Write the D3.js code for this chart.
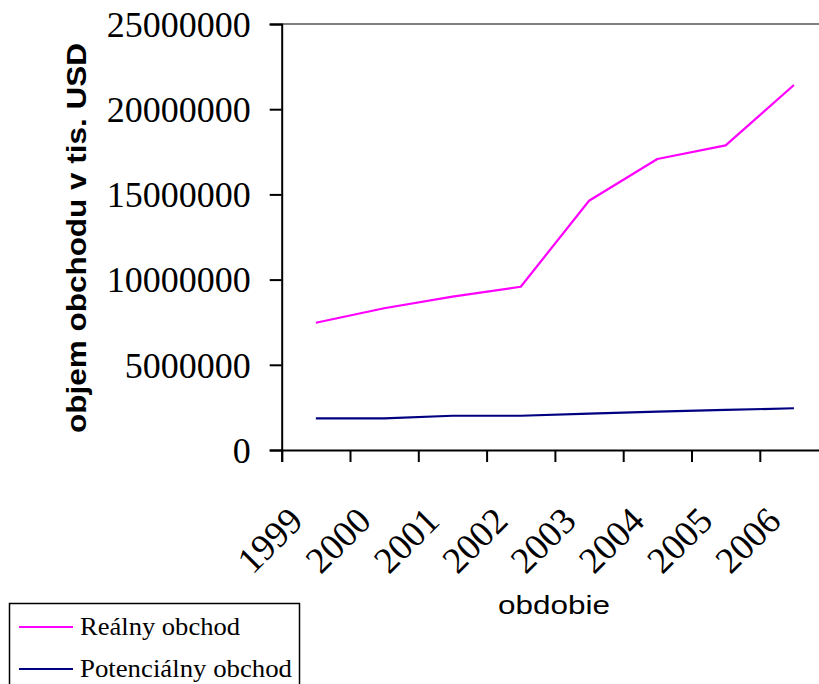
<!DOCTYPE html>
<html>
<head>
<meta charset="utf-8">
<script src="https://cdn.jsdelivr.net/npm/d3@7"></script>
<style>
  html, body { margin: 0; padding: 0; background: #fff; }
  svg { display: block; }
</style>
</head>
<body>
<svg id="chart" width="819" height="684"></svg>
<script>
// Trade volume by year (thousand USD)
const years = ["1999", "2000", "2001", "2002", "2003", "2004", "2005", "2006"];
const realTrade = [7470000, 8320000, 9000000, 9580000, 14630000, 17080000, 17880000, 21420000];
const potentialTrade = [1860000, 1860000, 2010000, 2010000, 2130000, 2250000, 2350000, 2450000];
const yTicks = [0, 5000000, 10000000, 15000000, 20000000, 25000000];
const seriesNames = ["Reálny obchod", "Potenciálny obchod"];
const seriesColors = ["#ff00ff", "#000080"];

const serif = "'Liberation Serif', 'Times New Roman', serif";
const sans = "'Liberation Sans', Arial, sans-serif";

const svg = d3.select("#chart");

const plotLeft = 281.7, plotTop = 24, plotBottom = 450, step = 68.3;
const plotRight = plotLeft + step * years.length;

const x = d3.scaleBand().domain(years).range([plotLeft, plotRight]).padding(0);
const xEdge = d3.scaleLinear().domain([0, years.length]).range([plotLeft, plotRight]);
const y = d3.scaleLinear().domain([0, 25000000]).range([plotBottom, plotTop]);

// plot area top border
svg.append("line")
  .attr("x1", plotLeft).attr("x2", plotRight)
  .attr("y1", y(25000000)).attr("y2", y(25000000))
  .attr("stroke", "#808080").attr("stroke-width", 2);

// y axis
const yAxis = svg.append("g")
  .attr("transform", `translate(${plotLeft},0)`)
  .call(d3.axisLeft(y).tickValues(yTicks).tickSize(12).tickPadding(19).tickFormat(d3.format("d")));
yAxis.select(".domain").attr("stroke", "#000").attr("stroke-width", 2);
yAxis.selectAll(".tick line").attr("stroke", "#000").attr("stroke-width", 2);
yAxis.selectAll(".tick text")
  .attr("font-family", serif).attr("font-size", 36).attr("fill", "#000")
  .attr("dy", "0.34em");

// x axis with ticks at category boundaries
const xAxis = svg.append("g")
  .attr("transform", `translate(0,${plotBottom})`)
  .call(d3.axisBottom(xEdge).tickValues(d3.range(0, years.length + 1)).tickSize(12).tickFormat(""));
xAxis.select(".domain").attr("stroke", "#000").attr("stroke-width", 2);
xAxis.selectAll(".tick line").attr("stroke", "#000").attr("stroke-width", 2);

// rotated category labels
svg.append("g").selectAll("text")
  .data(years)
  .join("text")
  .attr("transform", d => `translate(${x(d) + x.bandwidth() / 2 - 11},${plotBottom + 73}) rotate(-45)`)
  .attr("text-anchor", "end")
  .attr("font-family", serif).attr("font-size", 37).attr("fill", "#000")
  .text(d => d);

// lines
const line = d3.line()
  .x((d, i) => x(years[i]) + x.bandwidth() / 2)
  .y(d => y(d));

[realTrade, potentialTrade].forEach((vals, k) => {
  svg.append("path")
    .datum(vals)
    .attr("fill", "none")
    .attr("stroke", seriesColors[k])
    .attr("stroke-width", 2.2)
    .attr("stroke-linejoin", "round")
    .attr("d", line);
});

// axis titles
svg.append("text")
  .attr("transform", `translate(86,238) rotate(-90)`)
  .attr("text-anchor", "middle")
  .attr("font-family", sans).attr("font-weight", "bold").attr("font-size", 27)
  .attr("textLength", 390).attr("lengthAdjust", "spacingAndGlyphs")
  .attr("fill", "#000")
  .text("objem obchodu v tis. USD");

svg.append("text")
  .attr("x", 554).attr("y", 614)
  .attr("text-anchor", "middle")
  .attr("font-family", sans).attr("font-size", 26)
  .attr("textLength", 112).attr("lengthAdjust", "spacingAndGlyphs")
  .attr("fill", "#000")
  .text("obdobie");

// legend
const legend = svg.append("g");
legend.append("rect")
  .attr("x", 9.5).attr("y", 603.5).attr("width", 290).attr("height", 100)
  .attr("fill", "#fff").attr("stroke", "#000").attr("stroke-width", 1.5);
const legendY = [627, 669];
const legendLen = [160, 212];
seriesNames.forEach((name, k) => {
  legend.append("line")
    .attr("x1", 19).attr("x2", 73)
    .attr("y1", legendY[k]).attr("y2", legendY[k])
    .attr("stroke", seriesColors[k]).attr("stroke-width", 2);
  legend.append("text")
    .attr("x", 80).attr("y", legendY[k] + 8)
    .attr("font-family", serif).attr("font-size", 26)
    .attr("textLength", legendLen[k]).attr("lengthAdjust", "spacingAndGlyphs")
    .attr("fill", "#000")
    .text(name);
});
</script>
</body>
</html>
